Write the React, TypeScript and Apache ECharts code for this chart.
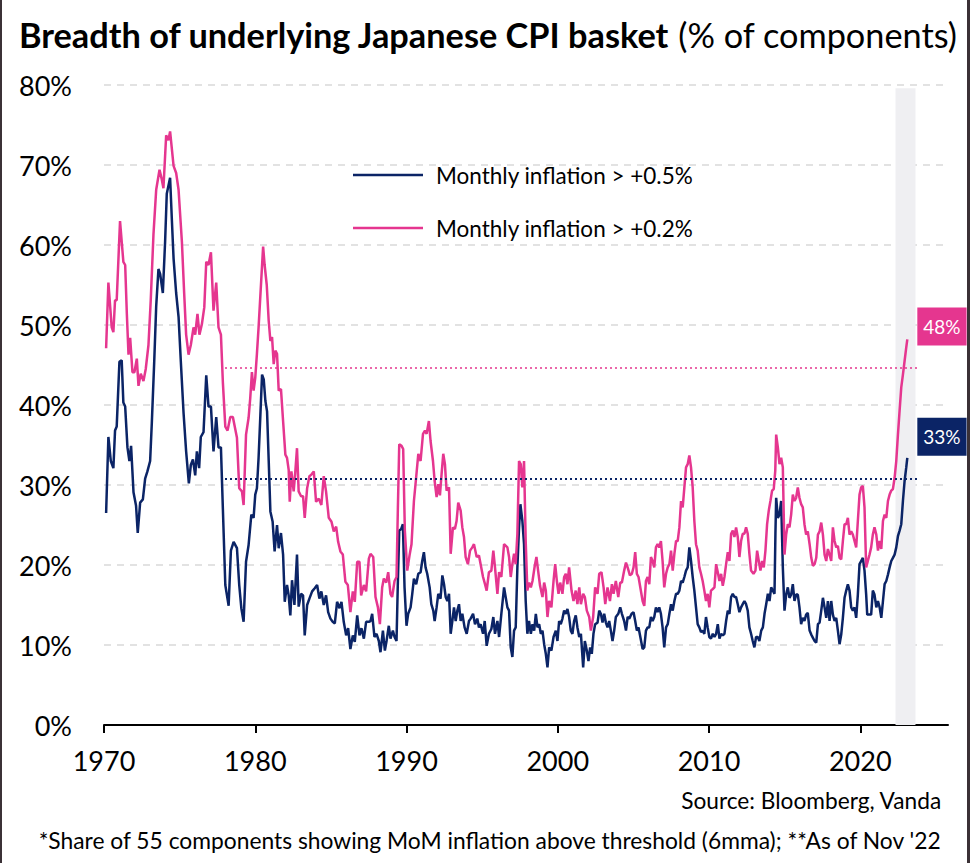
import React, { useEffect, useRef } from 'react';
import * as echarts from 'echarts';

// ---- Series values: [decimal year, % of components] ----
const navy1970s: [number, number][] = [
  [1970.14,26.5],[1970.29,36.0],[1970.45,33.0],[1970.62,32.1],[1970.73,36.8],[1970.84,37.3],[1971.02,45.4],[1971.17,45.6],[1971.28,40.3],[1971.40,39.8],[1971.55,34.7],[1971.68,33.0],[1971.79,34.9],[1971.95,29.1],[1972.12,27.4],[1972.23,24.0],[1972.39,27.8],[1972.57,28.2],[1972.72,30.8],[1972.87,31.7],[1973.05,33.0],[1973.16,37.7],[1973.32,45.4],[1973.45,52.3],[1973.60,57.0],[1973.71,56.4],[1973.89,54.0],[1974.04,60.4],[1974.15,66.4],[1974.37,68.4],[1974.49,63.0],[1974.60,58.3],[1974.77,54.0],[1974.93,51.0],[1975.08,45.4],[1975.26,39.0],[1975.43,34.2],[1975.61,30.2],[1975.74,32.5],[1975.88,33.2],[1976.03,31.2],[1976.14,34.2],[1976.29,32.1],[1976.40,36.0],[1976.58,36.6],[1976.76,43.7],[1976.91,39.8],[1977.07,39.8],[1977.24,34.2],[1977.42,38.5],[1977.57,34.7],[1977.73,34.7],[1977.91,24.0],[1978.02,17.5],[1978.24,14.9],[1978.39,21.8],[1978.57,22.9],[1978.79,22.1],[1978.94,17.5],[1979.08,14.6],[1979.23,12.9],[1979.39,20.4],[1979.56,22.5],[1979.74,26.3],[1979.89,25.9]
];
const navy1980s: [number, number][] = [
  [1980.00,28.8],[1980.11,29.6],[1980.22,33.4],[1980.34,38.8],[1980.45,43.8],[1980.56,43.2],[1980.67,40.5],[1980.78,39.2],[1980.89,33.0],[1981.00,26.7],[1981.15,25.4],[1981.28,21.7],[1981.44,25.0],[1981.55,22.1],[1981.70,24.0],[1981.84,21.3],[1981.95,15.4],[1982.10,17.5],[1982.21,16.2],[1982.32,13.7],[1982.43,18.1],[1982.59,15.0],[1982.76,21.3],[1982.87,14.8],[1983.03,16.4],[1983.16,16.2],[1983.27,11.2],[1983.43,15.0],[1983.58,15.8],[1983.76,16.7],[1983.93,17.1],[1984.09,17.5],[1984.24,15.8],[1984.37,16.7],[1984.53,15.0],[1984.68,16.2],[1984.82,14.1],[1984.97,13.3],[1985.12,12.9],[1985.26,12.7],[1985.41,15.4],[1985.57,14.6],[1985.70,15.4],[1985.85,12.9],[1986.01,11.2],[1986.14,12.1],[1986.29,9.5],[1986.45,11.2],[1986.58,10.4],[1986.74,13.7],[1986.89,11.2],[1987.02,12.1],[1987.18,10.8],[1987.33,12.9],[1987.51,12.9],[1987.62,13.0],[1987.73,13.9],[1987.88,11.0],[1988.02,11.4],[1988.17,10.5],[1988.28,9.1],[1988.44,11.8],[1988.57,9.3],[1988.68,10.5],[1988.83,12.4],[1988.94,10.8],[1989.10,11.8],[1989.21,11.0],[1989.34,10.5],[1989.43,18.0],[1989.52,24.3],[1989.65,24.5],[1989.76,25.1],[1989.87,17.2]
];
const navy1990s: [number, number][] = [
  [1990.00,12.4],[1990.11,13.9],[1990.27,14.7],[1990.38,16.4],[1990.49,18.3],[1990.64,17.6],[1990.78,18.9],[1990.93,19.1],[1991.04,20.5],[1991.15,21.6],[1991.26,19.7],[1991.37,18.9],[1991.53,17.2],[1991.64,15.1],[1991.77,14.3],[1991.86,13.0],[1991.99,14.7],[1992.10,16.4],[1992.25,15.8],[1992.37,18.7],[1992.48,17.6],[1992.59,16.0],[1992.70,15.5],[1992.81,16.4],[1992.92,11.4],[1993.03,13.0],[1993.14,14.7],[1993.25,13.0],[1993.36,14.3],[1993.47,15.1],[1993.58,13.0],[1993.69,13.9],[1993.84,12.2],[1993.98,11.4],[1994.13,13.0],[1994.24,13.3],[1994.40,13.9],[1994.53,12.6],[1994.68,13.3],[1994.79,12.2],[1994.90,12.6],[1995.06,11.4],[1995.17,13.0],[1995.30,9.9],[1995.45,11.4],[1995.61,12.0],[1995.74,13.5],[1995.85,11.4],[1996.01,13.0],[1996.12,11.0],[1996.27,13.9],[1996.45,17.2],[1996.67,14.7],[1996.78,14.3],[1996.89,9.7],[1997.00,8.5],[1997.11,11.8],[1997.22,12.2],[1997.33,19.7],[1997.44,24.7],[1997.53,27.6],[1997.66,25.5],[1997.77,22.6],[1997.88,15.5],[1997.99,11.4],[1998.10,13.0],[1998.22,11.4],[1998.33,12.6],[1998.44,11.8],[1998.55,13.9],[1998.66,12.2],[1998.77,12.6],[1998.88,11.4],[1998.99,11.8],[1999.10,10.1],[1999.21,8.9],[1999.32,7.2],[1999.43,9.7],[1999.58,9.3],[1999.72,11.0],[1999.87,11.8],[1999.98,10.5]
];
const navy2000s: [number, number][] = [
  [2000.09,13.0],[2000.20,12.6],[2000.31,13.3],[2000.42,14.3],[2000.53,13.9],[2000.64,14.5],[2000.75,13.5],[2000.86,11.8],[2000.97,11.4],[2001.08,13.0],[2001.19,13.7],[2001.30,12.2],[2001.42,11.0],[2001.53,11.4],[2001.68,7.2],[2001.79,10.5],[2001.92,9.3],[2002.03,8.0],[2002.14,9.7],[2002.25,8.9],[2002.36,11.4],[2002.47,12.6],[2002.63,12.8],[2002.74,14.3],[2002.85,13.9],[2002.96,12.8],[2003.07,13.9],[2003.18,12.8],[2003.29,12.2],[2003.40,13.0],[2003.51,11.8],[2003.62,10.5],[2003.73,11.8],[2003.84,13.5],[2004.00,13.9],[2004.13,14.7],[2004.24,13.9],[2004.39,13.0],[2004.51,11.8],[2004.62,13.5],[2004.73,13.3],[2004.88,13.9],[2005.01,14.1],[2005.12,13.0],[2005.23,11.8],[2005.34,12.2],[2005.61,9.5],[2005.72,9.7],[2005.83,11.8],[2005.94,12.2],[2006.05,12.2],[2006.16,13.5],[2006.27,13.0],[2006.38,13.5],[2006.49,14.7],[2006.60,14.1],[2006.71,14.7],[2006.82,13.9],[2006.93,12.2],[2007.04,9.7],[2007.16,12.2],[2007.27,12.6],[2007.38,13.9],[2007.49,15.1],[2007.60,14.3],[2007.71,15.5],[2007.82,16.4],[2007.93,16.4],[2008.04,16.8],[2008.15,18.0],[2008.26,17.8],[2008.37,18.5],[2008.48,19.3],[2008.59,19.7],[2008.70,22.2],[2008.81,20.5],[2008.92,18.5],[2009.03,16.8],[2009.14,14.7],[2009.25,12.6],[2009.36,12.2],[2009.47,11.6],[2009.58,11.8],[2009.69,11.4],[2009.80,13.5],[2009.91,12.2]
];
const navy2010s: [number, number][] = [
  [2010.02,11.0],[2010.13,10.8],[2010.25,11.4],[2010.36,11.0],[2010.47,11.4],[2010.58,12.6],[2010.69,10.8],[2010.80,11.4],[2010.91,11.2],[2011.02,11.4],[2011.13,13.0],[2011.24,14.3],[2011.35,13.9],[2011.46,16.0],[2011.57,16.4],[2011.68,16.0],[2011.79,16.0],[2011.90,15.1],[2012.01,14.1],[2012.12,14.7],[2012.23,15.1],[2012.34,15.5],[2012.45,15.1],[2012.56,14.3],[2012.67,12.2],[2012.78,11.4],[2012.89,10.5],[2013.00,9.7],[2013.11,11.0],[2013.22,11.0],[2013.33,10.5],[2013.45,11.8],[2013.56,12.2],[2013.67,13.9],[2013.78,15.1],[2013.89,16.4],[2014.00,15.5],[2014.11,17.2],[2014.22,16.8],[2014.33,16.4],[2014.39,23.9],[2014.44,28.4],[2014.55,25.9],[2014.66,26.3],[2014.77,28.0],[2014.88,19.7],[2014.99,14.3],[2015.10,16.3],[2015.21,17.2],[2015.32,15.9],[2015.43,16.3],[2015.54,17.6],[2015.65,15.5],[2015.76,16.3],[2015.87,16.3],[2015.98,14.7],[2016.09,12.6],[2016.20,13.4],[2016.31,13.0],[2016.42,13.8],[2016.53,14.0],[2016.65,11.8],[2016.76,11.3],[2016.87,10.9],[2016.98,10.5],[2017.09,10.3],[2017.20,12.6],[2017.31,12.8],[2017.42,14.3],[2017.53,15.9],[2017.64,14.7],[2017.75,13.4],[2017.86,15.5],[2017.97,13.0],[2018.08,15.5],[2018.19,13.8],[2018.30,13.0],[2018.41,13.4],[2018.52,11.8],[2018.63,10.1],[2018.74,11.3],[2018.85,13.4],[2018.96,15.9],[2019.07,16.8],[2019.18,17.6],[2019.29,16.8],[2019.40,14.7],[2019.51,14.3],[2019.62,14.7],[2019.73,13.4],[2019.84,16.3],[2019.95,20.1]
];
const navy2020s: [number, number][] = [
  [2020.06,20.5],[2020.17,20.9],[2020.28,19.3],[2020.39,16.3],[2020.46,13.8],[2020.61,13.8],[2020.72,13.8],[2020.83,16.8],[2020.94,16.3],[2021.06,14.7],[2021.17,15.5],[2021.28,14.7],[2021.39,13.4],[2021.50,15.5],[2021.61,17.6],[2021.72,18.0],[2021.83,18.8],[2021.94,19.7],[2022.05,20.5],[2022.16,20.9],[2022.27,21.3],[2022.38,22.2],[2022.49,23.6],[2022.60,24.3],[2022.71,25.1],[2022.82,28.0],[2022.93,30.5],[2023.04,32.2],[2023.11,33.4]
];

const pink1970s: [number, number][] = [
  [1970.14,47.1],[1970.29,55.3],[1970.51,49.7],[1970.62,49.1],[1970.73,53.1],[1970.84,53.1],[1971.06,63.0],[1971.28,57.9],[1971.40,57.5],[1971.51,51.4],[1971.62,46.3],[1971.73,48.4],[1971.88,44.1],[1972.01,44.1],[1972.17,45.8],[1972.28,42.4],[1972.43,43.9],[1972.61,43.0],[1972.76,44.5],[1972.94,47.5],[1973.09,53.1],[1973.27,61.3],[1973.45,66.9],[1973.67,69.4],[1973.82,68.2],[1973.93,67.1],[1974.11,73.7],[1974.26,73.1],[1974.37,74.2],[1974.60,69.9],[1974.77,69.0],[1974.93,66.9],[1975.15,60.4],[1975.30,54.0],[1975.43,48.8],[1975.59,46.3],[1975.74,47.5],[1975.92,49.7],[1976.03,48.8],[1976.18,51.4],[1976.31,48.8],[1976.47,50.1],[1976.63,52.2],[1976.76,57.9],[1976.91,57.5],[1977.07,59.1],[1977.24,51.8],[1977.42,55.3],[1977.57,49.7],[1977.73,48.8],[1977.86,42.8],[1978.02,37.3],[1978.17,36.8],[1978.35,38.5],[1978.52,38.5],[1978.79,35.9],[1978.94,29.6],[1979.12,29.2],[1979.23,27.5],[1979.39,36.3],[1979.56,38.4],[1979.67,40.9],[1979.78,44.1],[1979.89,41.8]
];
const pink1980s: [number, number][] = [
  [1980.00,43.4],[1980.11,46.4],[1980.22,49.7],[1980.52,59.8],[1980.62,57.5],[1980.76,55.0],[1980.89,50.5],[1981.00,48.0],[1981.11,48.5],[1981.22,45.1],[1981.33,46.8],[1981.44,46.4],[1981.55,41.8],[1981.70,42.0],[1981.84,38.0],[1981.99,33.8],[1982.10,33.4],[1982.21,31.9],[1982.28,27.9],[1982.39,31.7],[1982.54,29.2],[1982.65,31.7],[1982.76,34.6],[1982.87,29.2],[1983.03,28.6],[1983.16,28.6],[1983.27,25.9],[1983.43,29.6],[1983.58,31.1],[1983.71,31.3],[1983.87,31.7],[1984.02,27.9],[1984.20,28.3],[1984.37,27.5],[1984.53,31.1],[1984.68,29.2],[1984.86,25.9],[1985.04,25.4],[1985.19,24.2],[1985.35,24.8],[1985.48,22.9],[1985.63,21.7],[1985.79,21.3],[1985.96,17.9],[1986.12,17.5],[1986.29,14.1],[1986.45,16.7],[1986.58,15.4],[1986.74,20.4],[1986.89,20.4],[1987.00,16.2],[1987.18,17.5],[1987.33,16.7],[1987.51,20.8],[1987.62,21.4],[1987.80,21.0],[1987.95,16.0],[1988.11,14.7],[1988.24,12.6],[1988.39,17.2],[1988.50,18.3],[1988.66,17.8],[1988.79,19.1],[1988.94,16.4],[1989.05,16.0],[1989.21,18.0],[1989.34,18.5],[1989.43,27.2],[1989.52,35.1],[1989.67,34.9],[1989.78,34.5],[1989.89,24.3]
];
const pink1990s: [number, number][] = [
  [1990.05,19.3],[1990.20,21.2],[1990.33,22.6],[1990.49,28.0],[1990.64,31.0],[1990.78,33.9],[1990.93,33.0],[1991.09,36.4],[1991.22,36.8],[1991.33,36.4],[1991.48,38.0],[1991.59,35.5],[1991.75,33.0],[1991.86,30.5],[1991.99,28.5],[1992.10,30.1],[1992.21,28.7],[1992.32,31.4],[1992.43,33.9],[1992.54,32.6],[1992.65,29.3],[1992.81,29.7],[1992.92,21.4],[1993.07,24.7],[1993.20,24.5],[1993.31,25.5],[1993.42,27.8],[1993.58,26.8],[1993.69,24.7],[1993.80,23.5],[1993.91,21.0],[1994.06,20.1],[1994.20,21.8],[1994.35,22.2],[1994.46,22.6],[1994.64,21.0],[1994.79,21.2],[1994.90,20.1],[1995.06,18.5],[1995.19,17.6],[1995.30,16.8],[1995.45,19.1],[1995.61,19.3],[1995.74,21.8],[1995.85,19.7],[1996.01,16.4],[1996.12,19.1],[1996.27,18.5],[1996.45,22.6],[1996.67,22.2],[1996.78,21.0],[1996.89,18.5],[1997.00,20.1],[1997.11,21.4],[1997.22,20.1],[1997.33,23.9],[1997.44,33.0],[1997.55,32.6],[1997.66,29.7],[1997.77,33.0],[1997.88,23.0],[1997.99,16.8],[1998.10,17.8],[1998.22,17.2],[1998.33,18.0],[1998.48,19.9],[1998.59,21.0],[1998.70,19.3],[1998.83,17.4],[1998.99,16.0],[1999.10,17.8],[1999.21,16.8],[1999.32,13.5],[1999.43,15.5],[1999.58,14.7],[1999.72,18.0],[1999.83,20.1],[1999.94,18.0]
];
const pink2000s: [number, number][] = [
  [2000.05,16.4],[2000.16,17.8],[2000.31,16.4],[2000.42,18.5],[2000.53,18.9],[2000.64,17.6],[2000.75,19.7],[2000.91,16.8],[2001.04,15.5],[2001.19,16.8],[2001.30,15.1],[2001.42,17.2],[2001.53,15.1],[2001.68,16.4],[2001.79,16.0],[2001.92,14.3],[2002.08,13.5],[2002.19,11.8],[2002.34,13.5],[2002.47,17.2],[2002.63,16.4],[2002.74,18.9],[2002.89,19.1],[2003.03,17.2],[2003.14,15.1],[2003.29,17.2],[2003.45,15.5],[2003.58,17.6],[2003.69,16.4],[2003.84,18.0],[2004.00,16.0],[2004.13,17.8],[2004.24,17.8],[2004.39,19.3],[2004.51,20.3],[2004.62,19.7],[2004.77,18.7],[2004.90,18.9],[2005.01,19.7],[2005.12,21.6],[2005.23,18.9],[2005.34,18.5],[2005.61,15.5],[2005.72,14.9],[2005.83,18.0],[2005.94,18.5],[2006.05,17.6],[2006.16,21.0],[2006.27,20.5],[2006.38,19.7],[2006.49,22.2],[2006.60,22.6],[2006.71,22.2],[2006.82,23.0],[2006.93,20.5],[2007.04,17.2],[2007.16,18.9],[2007.27,19.7],[2007.38,20.1],[2007.49,21.8],[2007.60,19.3],[2007.71,21.4],[2007.82,23.0],[2007.93,23.0],[2008.04,24.7],[2008.15,28.0],[2008.26,27.2],[2008.37,29.7],[2008.48,32.2],[2008.59,32.6],[2008.70,33.7],[2008.81,32.2],[2008.92,29.7],[2009.03,25.5],[2009.14,22.6],[2009.25,21.8],[2009.36,19.7],[2009.47,18.9],[2009.58,18.0],[2009.69,16.8],[2009.80,15.5],[2009.91,16.4]
];
const pink2010s: [number, number][] = [
  [2010.02,14.7],[2010.13,16.8],[2010.25,17.0],[2010.36,17.2],[2010.47,20.1],[2010.58,19.1],[2010.69,18.0],[2010.80,18.9],[2010.91,17.4],[2011.02,18.5],[2011.13,20.1],[2011.24,21.6],[2011.35,20.5],[2011.46,23.9],[2011.57,24.3],[2011.68,23.5],[2011.79,24.7],[2011.90,23.5],[2012.01,21.0],[2012.12,23.0],[2012.23,23.9],[2012.34,23.9],[2012.45,24.7],[2012.56,23.9],[2012.67,21.4],[2012.78,19.3],[2012.94,18.9],[2013.07,19.3],[2013.18,21.8],[2013.29,20.5],[2013.40,19.3],[2013.51,20.5],[2013.62,19.7],[2013.73,21.8],[2013.84,25.1],[2013.95,26.8],[2014.06,28.0],[2014.17,29.3],[2014.28,29.5],[2014.38,31.8],[2014.44,36.3],[2014.55,34.7],[2014.66,32.6],[2014.77,33.4],[2014.88,32.2],[2014.99,21.3],[2015.10,23.8],[2015.21,25.1],[2015.32,24.7],[2015.43,26.3],[2015.54,28.8],[2015.65,28.0],[2015.76,28.4],[2015.87,29.7],[2015.98,28.4],[2016.09,27.6],[2016.20,27.2],[2016.31,25.1],[2016.42,23.8],[2016.53,24.2],[2016.65,22.6],[2016.76,20.9],[2016.87,19.9],[2016.98,20.1],[2017.09,20.9],[2017.20,23.8],[2017.31,24.2],[2017.42,25.3],[2017.53,23.8],[2017.64,21.3],[2017.75,20.5],[2017.86,22.0],[2017.97,21.3],[2018.08,20.5],[2018.19,24.7],[2018.30,23.0],[2018.41,22.2],[2018.52,22.4],[2018.63,20.9],[2018.74,20.7],[2018.85,23.0],[2018.96,25.1],[2019.07,25.1],[2019.18,25.9],[2019.29,23.8],[2019.40,24.2],[2019.51,23.8],[2019.62,23.0],[2019.73,22.2],[2019.84,25.5],[2019.95,28.8]
];
const pink2020s: [number, number][] = [
  [2020.06,29.7],[2020.17,29.9],[2020.28,27.2],[2020.39,19.7],[2020.50,20.5],[2020.61,21.3],[2020.72,22.2],[2020.83,23.8],[2020.94,24.7],[2021.06,23.8],[2021.17,21.8],[2021.28,23.0],[2021.39,22.0],[2021.50,25.5],[2021.61,26.3],[2021.72,25.9],[2021.83,28.0],[2021.94,28.8],[2022.05,29.3],[2022.16,29.5],[2022.27,30.9],[2022.38,33.0],[2022.49,36.3],[2022.60,39.3],[2022.71,42.2],[2022.82,43.8],[2022.93,45.5],[2023.04,47.2],[2023.11,48.2]
];

// Reference levels (dotted lines) and shaded period
const navyReference = 30.75;
const pinkReference = 44.7;
const referenceSpan = [1978.0, 2023.9];
const shadedSpan = [2022.33, 2023.65];
const xTickYears = [1970, 1980, 1990, 2000, 2010, 2020];

const NAVY_NAME = 'Monthly inflation > +0.5%';
const PINK_NAME = 'Monthly inflation > +0.2%';
const NAVY = '#0B2466';
const PINK = '#E5368F';
const FONT = 'Lato';

export default function App() {
  const ref = useRef<HTMLDivElement>(null);

  useEffect(() => {
    document.body.style.margin = '0';
    const chart = echarts.init(ref.current!, null, { renderer: 'svg' });
    const navyData = [...navy1970s, ...navy1980s, ...navy1990s, ...navy2000s, ...navy2010s, ...navy2020s];
    const pinkData = [...pink1970s, ...pink1980s, ...pink1990s, ...pink2000s, ...pink2010s, ...pink2020s];

    const endLabel = (bg: string, dy: number) => ({
      show: true,
      formatter: (p: any) => Math.round(p.value[1]) + '%',
      color: '#fff',
      backgroundColor: bg,
      fontFamily: FONT,
      fontSize: 19,
      lineHeight: 20,
      padding: [9, 6, 9, 6],
      distance: 10,
      offset: [0, dy],
    });

    chart.setOption({
      animation: false,
      backgroundColor: '#fff',
      title: {
        text: '{b|Breadth of underlying Japanese CPI basket} {n|(% of components)}',
        left: 14,
        top: 12,
        textStyle: {
          fontFamily: FONT,
          fontSize: 34.3,
          color: '#000',
          rich: {
            b: { fontFamily: FONT, fontWeight: 'bold', fontSize: 34.3, color: '#000' },
            n: { fontFamily: FONT, fontWeight: 'normal', fontSize: 34.3, color: '#000' },
          },
        },
      },
      legend: {
        orient: 'vertical',
        left: 348,
        top: 158,
        icon: 'rect',
        itemWidth: 70,
        itemHeight: 2.5,
        itemGap: 29,
        selectedMode: false,
        data: [NAVY_NAME, PINK_NAME],
        textStyle: { fontFamily: FONT, fontSize: 22.5, color: '#000', lineHeight: 24, padding: [0, 0, 0, 8] },
      },
      grid: { left: 104, right: 22, top: 85, bottom: 138, containLabel: false },
      xAxis: {
        type: 'value',
        min: 1970,
        max: 2025.8,
        interval: 10,
        axisLine: { show: true, lineStyle: { color: '#000', width: 2 } },
        axisTick: { show: true, length: 8, lineStyle: { color: '#000', width: 2 }, customValues: xTickYears },
        axisLabel: {
          customValues: xTickYears,
          formatter: (v: number) => (v % 10 === 0 ? String(v) : ''),
          fontFamily: FONT,
          fontSize: 27,
          color: '#000',
          margin: 22,
        },
        splitLine: { show: false },
      },
      yAxis: {
        type: 'value',
        min: 0,
        max: 80,
        interval: 10,
        axisLine: { show: false },
        axisTick: { show: false },
        axisLabel: { formatter: '{value}%', fontFamily: FONT, fontSize: 27, color: '#000', margin: 32 },
        splitLine: { show: true, lineStyle: { color: '#D9D9D9', width: 1.5, type: [7, 6] } },
      },
      graphic: [
        { type: 'rect', left: 0, top: 0, shape: { width: 2, height: 863 }, style: { fill: '#3b3136' } },
        { type: 'rect', left: 967, top: 0, shape: { width: 3, height: 863 }, style: { fill: '#3b3136' } },
        {
          type: 'text',
          right: 28,
          top: 789,
          style: { text: 'Source: Bloomberg, Vanda', font: `22.7px ${FONT}`, fill: '#000' },
        },
        {
          type: 'text',
          right: 28,
          top: 828,
          style: {
            text: "*Share of 55 components showing MoM inflation above threshold (6mma); **As of Nov '22",
            font: `22.8px ${FONT}`,
            fill: '#000',
          },
        },
      ],
      series: [
        {
          name: 'shade',
          type: 'line',
          data: [],
          silent: true,
          markArea: {
            silent: true,
            itemStyle: { color: '#EFEFF2' },
            data: [[{ xAxis: shadedSpan[0], yAxis: 0 }, { xAxis: shadedSpan[1], yAxis: 79.6 }]],
          },
        },
        {
          name: NAVY_NAME,
          type: 'line',
          data: navyData,
          showSymbol: false,
          symbol: 'none',
          lineStyle: { color: NAVY, width: 2.5 },
          itemStyle: { color: NAVY },
          endLabel: endLabel(NAVY, -21),
          markLine: {
            silent: true,
            symbol: 'none',
            label: { show: false },
            lineStyle: { color: NAVY, type: [2, 3], width: 2 },
            data: [[{ coord: [referenceSpan[0], navyReference] }, { coord: [referenceSpan[1], navyReference] }]],
          },
        },
        {
          name: PINK_NAME,
          type: 'line',
          data: pinkData,
          showSymbol: false,
          symbol: 'none',
          lineStyle: { color: PINK, width: 2.5 },
          itemStyle: { color: PINK },
          endLabel: endLabel(PINK, -13),
          markLine: {
            silent: true,
            symbol: 'none',
            label: { show: false },
            lineStyle: { color: PINK, type: [2, 3], width: 1.5 },
            data: [[{ coord: [referenceSpan[0], pinkReference] }, { coord: [referenceSpan[1], pinkReference] }]],
          },
        },
      ],
    });

    return () => chart.dispose();
  }, []);

  return <div ref={ref} style={{ width: 970, height: 863, background: '#fff' }} />;
}
